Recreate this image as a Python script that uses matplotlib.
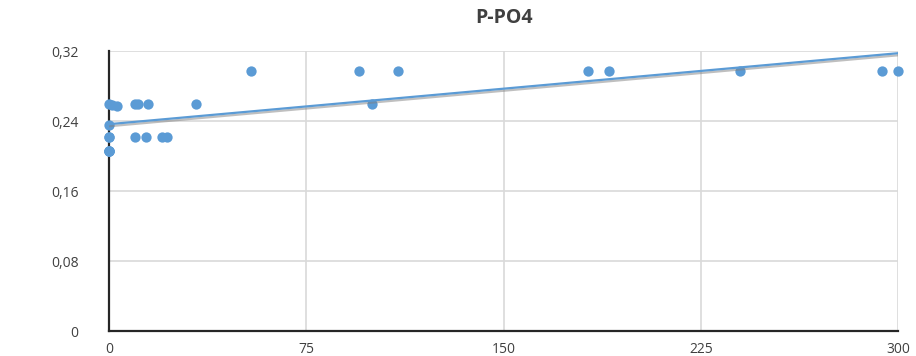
import numpy as np
import matplotlib as mpl
mpl.use('agg')
import matplotlib.pyplot as plt
import matplotlib.patheffects as pe
from matplotlib.ticker import FuncFormatter

# tempo (x) e concentracao de P-PO4 (y); ha pontos repetidos em t=0
tempo = [0, 1, 3, 0, 0, 0, 0, 0, 0, 0, 10, 11, 15, 10, 14, 20, 22, 33, 54,
         95, 100, 110, 182, 190, 240, 294, 300]
ppo4 = [0.26, 0.258, 0.257, 0.236, 0.222, 0.222, 0.206, 0.206, 0.206, 0.206,
        0.26, 0.26, 0.26, 0.222, 0.222, 0.222, 0.222, 0.26, 0.297, 0.297,
        0.26, 0.297, 0.297, 0.297, 0.297, 0.297, 0.297]

x_ticks = [0, 75, 150, 225, 300]
y_ticks = [0, 0.08, 0.16, 0.24, 0.32]

plt.rcParams['font.family'] = ['Open Sans', 'DejaVu Sans']
txt = '#404040'

fig = plt.figure(figsize=(9.16, 3.56), dpi=100)
ax = fig.add_axes([0.1190, 0.0702, 0.8614, 0.7865])

ax.scatter(tempo, ppo4, s=55, color='#5b9bd5', zorder=3, linewidths=0, clip_on=False)

# linha de tendencia linear
a, b = np.polyfit(tempo, ppo4, 1)
xs = np.array([0, 300])
ax.plot(xs, a * xs + b, color='#5b9bd5', lw=1.6, zorder=4,
        path_effects=[pe.SimpleLineShadow(offset=(0, -1.5), shadow_color='#808080', alpha=0.5),
                      pe.Normal()])

ax.set_xlim(0, 300)
ax.set_ylim(0, 0.32)
ax.set_xticks(x_ticks)
ax.set_yticks(y_ticks)
ax.yaxis.set_major_formatter(FuncFormatter(lambda v, p: '0' if v == 0 else ('%.2f' % v).replace('.', ',')))
ax.grid(True, color='#d9d9d9', lw=1.2)
ax.set_axisbelow(True)

for s in ['top', 'right']:
    ax.spines[s].set_visible(False)
for s in ['left', 'bottom']:
    ax.spines[s].set_color('#262626')
    ax.spines[s].set_linewidth(1.6)
ax.tick_params(length=0, labelsize=10, colors=txt)
ax.tick_params(axis='y', pad=22)
ax.tick_params(axis='x', pad=8)

ax.set_title('P-PO4', fontsize=14, fontweight='bold', color=txt, pad=20)

plt.savefig('out.png', dpi=100)
plt.close()
